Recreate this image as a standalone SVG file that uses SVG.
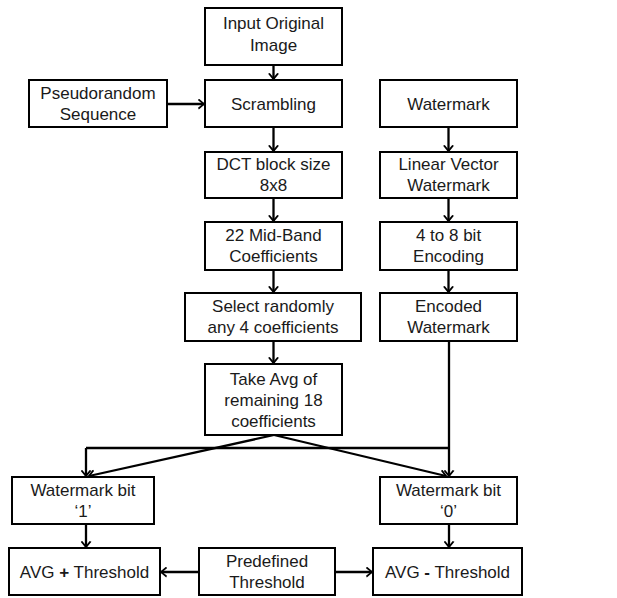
<svg xmlns="http://www.w3.org/2000/svg" width="617" height="598" viewBox="0 0 617 598">
<defs>
<marker id="ah" viewBox="0 0 10 12" refX="9" refY="6" markerWidth="7" markerHeight="11" markerUnits="userSpaceOnUse" orient="auto" preserveAspectRatio="none">
<path d="M1,1 L9,6 L1,11" fill="none" stroke="#000" stroke-width="2.2"/>
</marker>
<style>
rect{fill:#fff;stroke:#000;stroke-width:2}
text{font-family:"Liberation Sans",Arial,sans-serif;font-size:17px;fill:#1a1a1a;text-anchor:middle}
.c{fill:none;stroke:#000;stroke-width:2.3}
.a{marker-end:url(#ah)}
</style>
</defs>
<rect x="0" y="0" width="617" height="598" style="fill:#fff;stroke:none"/>
<g id="connectors">
<path class="c a" d="M273.5,65 V79"/>
<path class="c a" d="M167,104 H204"/>
<path class="c a" d="M273.5,127 V151"/>
<path class="c a" d="M448.5,127 V151"/>
<path class="c a" d="M273.5,198 V221"/>
<path class="c a" d="M448.5,198 V221"/>
<path class="c a" d="M273.5,270 V292"/>
<path class="c a" d="M448.5,270 V292"/>
<path class="c a" d="M273.5,341 V363"/>
<path class="c a" d="M449,341 V476"/>
<path class="c" d="M449,448 H86"/>
<path class="c a" d="M86,448 V476"/>
<path class="c a" d="M274,435 L89,476"/>
<path class="c a" d="M274,435 L446,476"/>
<path class="c a" d="M86,524 V547"/>
<path class="c a" d="M449,524 V547"/>
<path class="c a" d="M199,572 H161"/>
<path class="c a" d="M335,572 H372"/>
</g>
<g id="input"><rect x="205" y="8" width="137" height="57"/><text x="273.5" y="29">Input Original</text><text x="273.5" y="51">Image</text></g>
<g id="pseudorandom"><rect x="29" y="80" width="138" height="47"/><text x="98" y="99">Pseudorandom</text><text x="98" y="120">Sequence</text></g>
<g id="scrambling"><rect x="205" y="80" width="137" height="47"/><text x="273.5" y="110">Scrambling</text></g>
<g id="watermark"><rect x="380" y="80" width="137" height="47"/><text x="448.5" y="110">Watermark</text></g>
<g id="dct"><rect x="205" y="152" width="137" height="46"/><text x="273.5" y="170">DCT block size</text><text x="273.5" y="191">8x8</text></g>
<g id="linear"><rect x="380" y="152" width="137" height="46"/><text x="448.5" y="170">Linear Vector</text><text x="448.5" y="191">Watermark</text></g>
<g id="midband"><rect x="205" y="222" width="137" height="48"/><text x="273.5" y="241">22 Mid-Band</text><text x="273.5" y="262">Coefficients</text></g>
<g id="encoding"><rect x="380" y="222" width="137" height="48"/><text x="448.5" y="241">4 to 8 bit</text><text x="448.5" y="262">Encoding</text></g>
<g id="select"><rect x="185" y="293" width="176" height="48"/><text x="273" y="312">Select randomly</text><text x="273" y="333">any 4 coefficients</text></g>
<g id="encoded"><rect x="380" y="293" width="137" height="48"/><text x="448.5" y="312">Encoded</text><text x="448.5" y="333">Watermark</text></g>
<g id="avg"><rect x="205" y="364" width="137" height="71"/><text x="273.5" y="385">Take Avg of</text><text x="273.5" y="406">remaining 18</text><text x="273.5" y="427">coefficients</text></g>
<g id="bit1"><rect x="12" y="477" width="142" height="47"/><text x="83" y="496">Watermark bit</text><text x="83" y="517">‘1’</text></g>
<g id="bit0"><rect x="380" y="477" width="137" height="47"/><text x="448.5" y="496">Watermark bit</text><text x="448.5" y="517">‘0’</text></g>
<g id="avgplus"><rect x="9" y="548" width="151" height="47"/><text x="84.5" y="578">AVG <tspan font-weight="bold">+</tspan> Threshold</text></g>
<g id="predefined"><rect x="199" y="548" width="136" height="47"/><text x="267" y="567">Predefined</text><text x="267" y="588">Threshold</text></g>
<g id="avgminus"><rect x="373" y="548" width="149" height="47"/><text x="447.5" y="578">AVG <tspan font-weight="bold">-</tspan> Threshold</text></g>
</svg>
